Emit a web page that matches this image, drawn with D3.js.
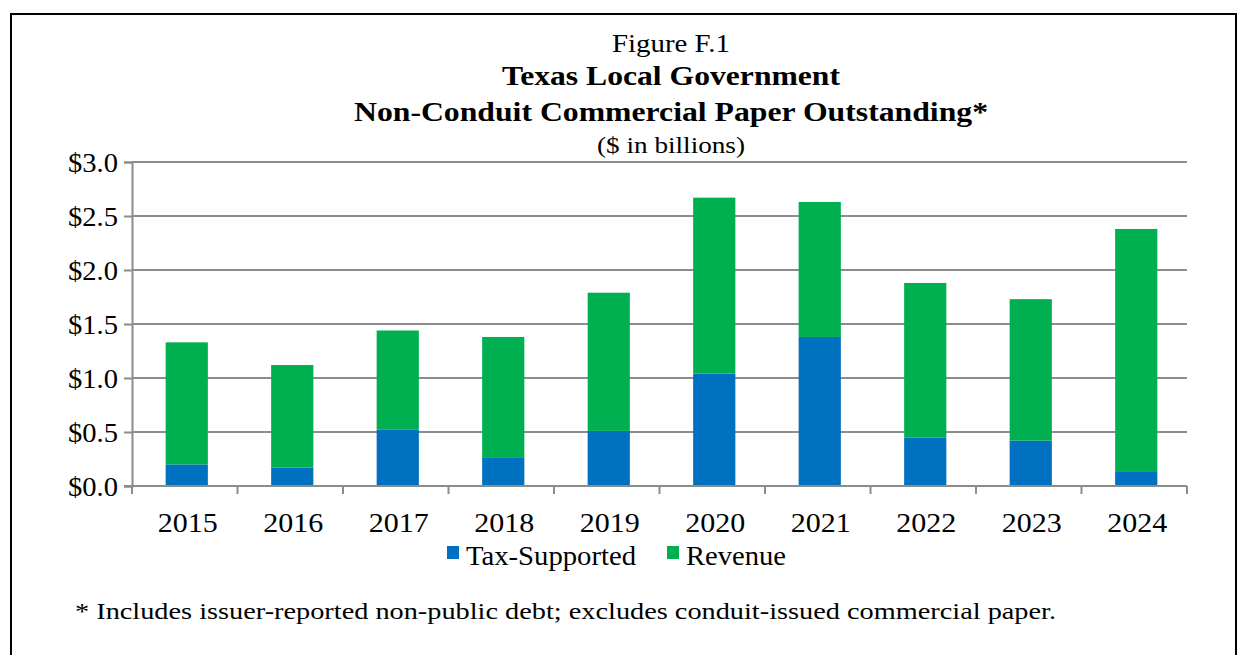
<!DOCTYPE html>
<html>
<head>
<meta charset="utf-8">
<script src="https://cdn.jsdelivr.net/npm/d3@7"></script>
<style>
  html, body { margin: 0; padding: 0; background: #fff; }
</style>
</head>
<body>
<svg id="chart" width="1248" height="655"></svg>
<script>
// Outstanding non-conduit commercial paper, $ billions
const years = ["2015", "2016", "2017", "2018", "2019", "2020", "2021", "2022", "2023", "2024"];
const taxSupported = [0.20, 0.17, 0.52, 0.26, 0.51, 1.04, 1.38, 0.45, 0.42, 0.13];
const revenue = [1.13, 0.95, 0.92, 1.12, 1.28, 1.63, 1.25, 1.43, 1.31, 2.25];
const yTicks = [0, 0.5, 1.0, 1.5, 2.0, 2.5, 3.0];
const seriesNames = ["Tax-Supported", "Revenue"];
const seriesColors = ["#0070C0", "#00B050"];

const FONT = "'Liberation Serif', 'Times New Roman', serif";
const svg = d3.select("#chart");
const plot = { left: 132, right: 1187, top: 162, bottom: 486 };

function label(sel, x, y, size, len, txt, opts = {}) {
  const t = sel.append("text")
    .attr("x", x).attr("y", y)
    .attr("font-family", FONT)
    .attr("font-size", size)
    .attr("fill", "#000")
    .attr("text-anchor", opts.anchor || "start")
    .text(txt);
  if (opts.bold) t.attr("font-weight", "bold");
  if (len) t.attr("textLength", len).attr("lengthAdjust", "spacingAndGlyphs");
  return t;
}

// Outer frame
svg.append("rect")
  .attr("x", 11).attr("y", 14)
  .attr("width", 1225).attr("height", 660)
  .attr("fill", "none").attr("stroke", "#000").attr("stroke-width", 2);

// Titles
const cx = 671;
label(svg, cx, 52, 25, 118, "Figure F.1", { anchor: "middle" });
label(svg, cx, 85, 28, 338, "Texas Local Government", { anchor: "middle", bold: true });
label(svg, cx, 121, 28, 634, "Non-Conduit Commercial Paper Outstanding*", { anchor: "middle", bold: true });
label(svg, cx, 153, 24, 148, "($ in billions)", { anchor: "middle" });

// Scales
const x = d3.scaleBand().domain(years).range([plot.left, plot.right]).paddingInner(0.6).paddingOuter(0.3);
const xb = d3.scaleBand().domain(years).range([plot.left, plot.right]);
const y = d3.scaleLinear().domain([0, 3]).range([plot.bottom, plot.top]);

// Gridlines
svg.append("g").selectAll("line").data(yTicks.filter(d => d > 0)).join("line")
  .attr("x1", plot.left).attr("x2", plot.right)
  .attr("y1", d => y(d)).attr("y2", d => y(d))
  .attr("stroke", "#8c8c8c").attr("stroke-width", 2);

// Stacked bars
const rows = years.map((yr, i) => ({ year: yr, "Tax-Supported": taxSupported[i], "Revenue": revenue[i] }));
const stack = d3.stack().keys(seriesNames)(rows);
svg.append("g").attr("transform", "translate(2,0)")
  .selectAll("g").data(stack).join("g")
  .attr("fill", (d, i) => seriesColors[i])
  .selectAll("rect").data(d => d).join("rect")
  .attr("x", d => x(d.data.year))
  .attr("width", x.bandwidth())
  .attr("y", d => y(d[1]))
  .attr("height", d => y(d[0]) - y(d[1]));

// Y axis
const yAxis = svg.append("g").attr("transform", `translate(${plot.left},0)`)
  .call(d3.axisLeft(y).tickValues(yTicks).tickSize(8).tickPadding(6).tickFormat(d => "$" + d.toFixed(1)));
yAxis.select(".domain").attr("stroke", "#8c8c8c").attr("stroke-width", 2);
yAxis.selectAll(".tick line").attr("stroke", "#8c8c8c").attr("stroke-width", 2);
yAxis.selectAll(".tick text")
  .attr("font-family", FONT).attr("font-size", 27).attr("fill", "#000")
  .attr("dy", "0.34em")
  .attr("textLength", 50).attr("lengthAdjust", "spacingAndGlyphs");

// X axis: tick marks at band boundaries
const xg = svg.append("g");
xg.append("line").attr("x1", plot.left - 8).attr("x2", plot.right)
  .attr("y1", plot.bottom).attr("y2", plot.bottom)
  .attr("stroke", "#8c8c8c").attr("stroke-width", 2);
const bounds = years.map(d => xb(d)).concat([plot.right]);
xg.selectAll("line.tk").data(bounds).join("line").attr("class", "tk")
  .attr("x1", d => d).attr("x2", d => d)
  .attr("y1", plot.bottom).attr("y2", plot.bottom + 8)
  .attr("stroke", "#8c8c8c").attr("stroke-width", 2);
years.forEach(yr => {
  label(xg, x(yr) + x.bandwidth() / 2 + 3, 532, 27, 60, yr, { anchor: "middle" });
});

// Legend
const legend = svg.append("g");
const legendX = [447, 667];
const legendLen = [170, 100];
seriesNames.forEach((name, i) => {
  legend.append("rect").attr("x", legendX[i]).attr("y", 546).attr("width", 12).attr("height", 13)
    .attr("fill", seriesColors[i]);
  label(legend, legendX[i] + 19, 565, 27, legendLen[i], name);
});

// Footnote
label(svg, 75, 619, 24, 981, "* Includes issuer-reported non-public debt; excludes conduit-issued commercial paper.");
</script>
</body>
</html>
